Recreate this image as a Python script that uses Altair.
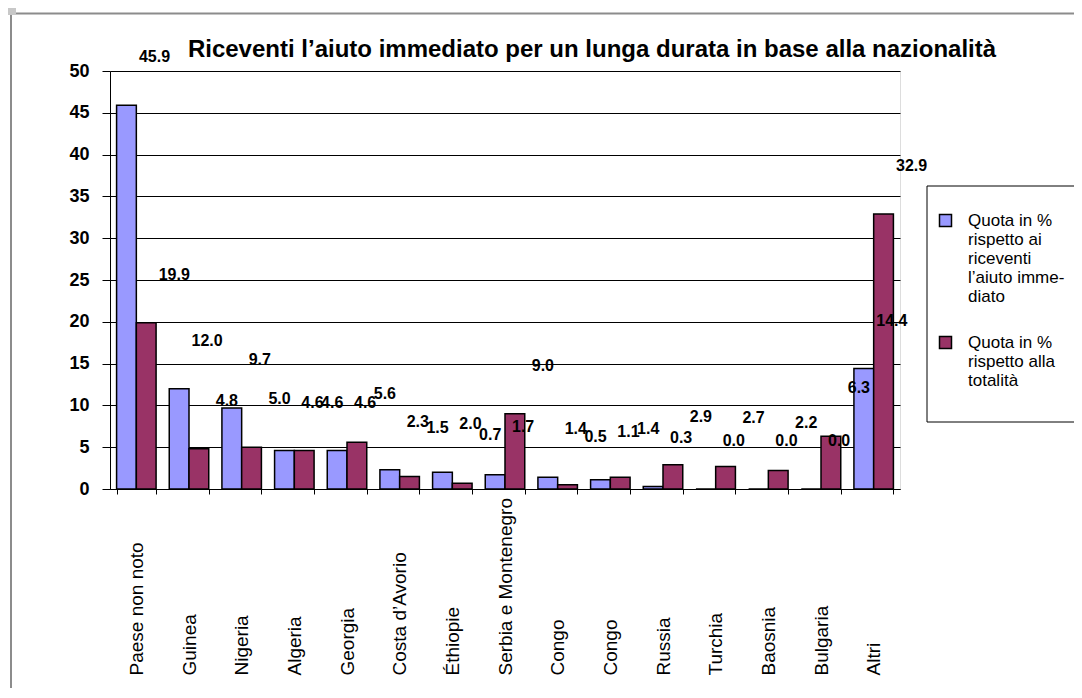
import json
import altair as alt
import pandas as pd

# ---- data ----
categories = ["Paese non noto", "Guinea", "Nigeria", "Algeria", "Georgia",
              "Costa d’Avorio", "Éthiopie", "Serbia e Montenegro", "Congo",
              "Congo", "Russia", "Turchia", "Baosnia", "Bulgaria", "Altri"]
series_names = ["Quota in % rispetto ai riceventi l’aiuto immediato",
                "Quota in % rispetto alla totalità"]
legend_lines = [["Quota in %", "rispetto ai", "riceventi", "l’aiuto imme-", "diato"],
                ["Quota in %", "rispetto alla", "totalità"]]
quota_riceventi = [45.9, 12.0, 9.7, 4.6, 4.6, 2.3, 2.0, 1.7, 1.4, 1.1, 0.3, 0.0, 0.0, 0.0, 14.4]
quota_totalita = [19.9, 4.8, 5.0, 4.6, 5.6, 1.5, 0.7, 9.0, 0.5, 1.4, 2.9, 2.7, 2.2, 6.3, 32.9]
y_ticks = [0, 5, 10, 15, 20, 25, 30, 35, 40, 45, 50]
colors = ["#9999FF", "#993366"]
title_text = "Riceventi l’aiuto immediato per un lunga durata in base alla nazionalità"

rows = []
for i, name in enumerate(categories):
    rows.append({"pos": i, "paese": name, "serie": series_names[0], "valore": quota_riceventi[i]})
    rows.append({"pos": i, "paese": name, "serie": series_names[1], "valore": quota_totalita[i]})
df = pd.DataFrame(rows)

FONT = "Liberation Sans"

x_label_expr = json.dumps(categories, ensure_ascii=False) + "[datum.value]"
legend_label_expr = (f"datum.label == {json.dumps(series_names[0], ensure_ascii=False)} ? "
                     f"{json.dumps(legend_lines[0], ensure_ascii=False)} : "
                     f"{json.dumps(legend_lines[1], ensure_ascii=False)}")

x_enc = alt.X("pos:O",
              scale=alt.Scale(paddingInner=0.25, paddingOuter=0.125),
              axis=alt.Axis(title=None, labelExpr=x_label_expr, labelAngle=270,
                            labelAlign="left", labelBaseline="middle",
                            labelPadding=181, labelFontSize=19, labelFont=FONT,
                            labelColor="black", labelOverlap=False, labelBound=False,
                            labelLimit=400,
                            tickBand="extent", tickSize=5, tickColor="black",
                            domainColor="black", grid=False))
xoff_enc = alt.XOffset("serie:N", sort=series_names, scale=alt.Scale(paddingInner=0, paddingOuter=0))
y_enc = alt.Y("valore:Q",
              scale=alt.Scale(domain=[0, 50], nice=False, zero=True),
              axis=alt.Axis(title=None, values=y_ticks, grid=True, gridColor="black",
                            gridOpacity=1, gridWidth=1, tickSize=8, tickColor="black",
                            domainColor="black", labelFont=FONT, labelFontSize=18,
                            labelFontWeight="bold", labelColor="black", labelPadding=13))

bars = alt.Chart(df).mark_bar(stroke="black", strokeWidth=1.5).encode(
    x=x_enc, xOffset=xoff_enc, y=y_enc,
    color=alt.Color("serie:N",
                    scale=alt.Scale(domain=series_names, range=colors),
                    legend=alt.Legend(title=None, orient="none", legendX=827, legendY=141,
                                      symbolType="square", symbolSize=144,
                                      symbolStrokeColor="black", symbolStrokeWidth=1.5,
                                      labelExpr=legend_label_expr, labelFont=FONT,
                                      labelFontSize=17, labelColor="black",
                                      labelBaseline="middle", labelOffset=14,
                                      labelLimit=300, rowPadding=28, padding=0,
                                      zindex=1)),
)

labels = alt.Chart(df).mark_text(dx=28, dy=-48, font=FONT, fontSize=16, fontWeight="bold",
                                 color="black", align="center", baseline="middle").encode(
    x=alt.X("pos:O"), xOffset=alt.XOffset("serie:N", sort=series_names),
    y=alt.Y("valore:Q"), text=alt.Text("valore:Q", format=".1f"),
)

one = pd.DataFrame({"k": [0]})
# legend frame: white panel, open on the right as the reference is cut at the window edge
legend_fill = alt.Chart(one).mark_rect(fill="white").encode(
    x=alt.value(817), x2=alt.value(1000), y=alt.value(115), y2=alt.value(351))
legend_top = alt.Chart(one).mark_rule(color="black", strokeWidth=1).encode(
    x=alt.value(817), x2=alt.value(1000), y=alt.value(115))
legend_bottom = alt.Chart(one).mark_rule(color="black", strokeWidth=1).encode(
    x=alt.value(817), x2=alt.value(1000), y=alt.value(351))
legend_left = alt.Chart(one).mark_rule(color="black", strokeWidth=1).encode(
    x=alt.value(817), y=alt.value(115), y2=alt.value(351))
frame_top = alt.Chart(one).mark_rule(color="#8c8c8c", strokeWidth=2).encode(
    x=alt.value(-94), x2=alt.value(1000), y=alt.value(-57.5))
frame_left = alt.Chart(one).mark_rule(color="#8c8c8c", strokeWidth=2).encode(
    x=alt.value(-99), y=alt.value(-57), y2=alt.value(700))
corner = alt.Chart(one).mark_rect(fill="#c8c8c8").encode(
    x=alt.value(-110), x2=alt.value(-94), y=alt.value(-71), y2=alt.value(-56))
title = alt.Chart(one).mark_text(text=title_text, font=FONT, fontSize=24, fontWeight="bold",
                                 color="black", align="center", baseline="alphabetic").encode(
    x=alt.value(482), y=alt.value(-14))

chart = alt.layer(legend_fill, legend_top, legend_bottom, legend_left, frame_top, frame_left,
                  corner, title, bars, labels).properties(
    width=790, height=418,
    autosize=alt.AutoSizeParams(type="none"),
    padding={"left": 102, "top": 63, "right": 174, "bottom": 199},
).configure_view(
    fill="#C0C0C0", stroke="#808080", strokeWidth=1
).configure(background="white")

chart.save("out.html", embed_options={"renderer": "svg", "actions": False})
